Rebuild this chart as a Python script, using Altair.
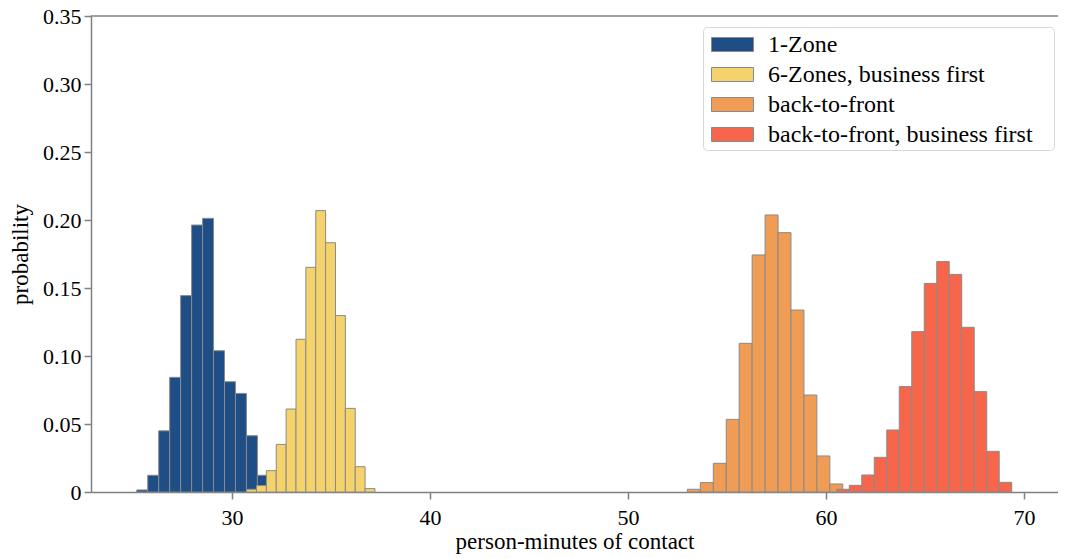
import altair as alt
import pandas as pd

series = ["1-Zone", "6-Zones, business first", "back-to-front", "back-to-front, business first"]
colors = ["#1f4e86", "#f5d36c", "#f09c55", "#f7654a"]

# histogram bin layout (first edge, bin width)
bin_starts = [25.19, 30.74, 53.0, 60.545]
bin_widths = [0.554, 0.4985, 0.654, 0.631]

p_1zone = [0.0015, 0.0123, 0.045, 0.0843, 0.1444, 0.1963, 0.2012, 0.1039, 0.0811, 0.0725, 0.0414, 0.0123]
p_6zones = [0.002, 0.0047, 0.0157, 0.035, 0.061, 0.1123, 0.1652, 0.2069, 0.1833, 0.1297, 0.0615, 0.0186, 0.0025]
p_btf = [0.002, 0.0069, 0.0211, 0.0534, 0.1093, 0.1743, 0.2037, 0.1907, 0.1338, 0.0713, 0.0265, 0.0059]
p_btf_bf = [0.002, 0.0049, 0.0125, 0.0255, 0.0456, 0.0775, 0.1179, 0.1534, 0.1694, 0.1600, 0.1211, 0.0738, 0.0299, 0.0071]

x_ticks = [30, 40, 50, 60, 70]
y_ticks = [0, 0.05, 0.10, 0.15, 0.20, 0.25, 0.30, 0.35]
x_domain = [22.879, 71.717]
y_domain = [0, 0.35]

rows = []
for name, start, w, probs in zip(series, bin_starts, bin_widths, [p_1zone, p_6zones, p_btf, p_btf_bf]):
    for i, p in enumerate(probs):
        rows.append({"series": name, "x0": start + i * w, "x1": start + (i + 1) * w, "prob": p, "order": len(rows)})
df = pd.DataFrame(rows)

FONT = "Liberation Serif"
AXIS_GREY = "#808080"
W, H = 967, 476

bars = alt.Chart(df).mark_rect(stroke="#8a8a8a", strokeWidth=1).encode(
    x=alt.X("x0:Q", scale=alt.Scale(domain=x_domain, nice=False, zero=False),
            axis=alt.Axis(values=x_ticks, title="person-minutes of contact", format="d")),
    x2="x1:Q",
    y=alt.Y("prob:Q", scale=alt.Scale(domain=y_domain, nice=False),
            axis=alt.Axis(values=y_ticks, title="probability",
                          labelExpr="datum.value == 0 ? '0' : format(datum.value, '.2f')")),
    y2=alt.datum(0),
    fill=alt.Fill("series:N", scale=alt.Scale(domain=series, range=colors),
                  legend=alt.Legend(orient="none", legendX=612, legendY=11, title=None,
                                    symbolType="M-1.5,-0.5H1.5V0.5H-1.5Z", symbolSize=784,
                                    symbolOffset=12, labelOffset=21, labelFontSize=24,
                                    labelFont=FONT, labelColor="black", rowPadding=3, padding=3,
                                    strokeColor="#d8d8d8", fillColor="white", cornerRadius=4,
                                    symbolStrokeColor="#8a8a8a", symbolStrokeWidth=1,
                                    labelLimit=400,
                                    labelExpr="datum.label + '\u00a0\u00a0\u00a0\u200b'")),
    order=alt.Order("order:Q"),
)

# top frame line of the axes box (right side lies outside the reference picture)
top_line = alt.Chart(pd.DataFrame({"y": [y_domain[1]]})).mark_rule(
    color=AXIS_GREY, strokeWidth=1.5
).encode(y=alt.Y("y:Q"), x=alt.value(0), x2=alt.value(W))

chart = alt.layer(bars, top_line).properties(
    width=W, height=H,
    autosize=alt.AutoSizeParams(type="none"),
    padding={"left": 83, "top": 8, "right": 0, "bottom": 64},
).configure(font=FONT).configure_view(
    stroke=None
).configure_axis(
    grid=False, domainColor=AXIS_GREY, domainWidth=1.5, tickColor=AXIS_GREY, tickWidth=1.5,
    tickSize=7, labelFont=FONT, labelFontSize=22, labelColor="black", titleFont=FONT,
    titleFontSize=23, titleFontWeight="normal", titleColor="black"
).configure_axisX(labelPadding=8, titlePadding=2).configure_axisY(labelPadding=3, titlePadding=10)

chart.save("out.html", embed_options={"renderer": "svg", "actions": False})
